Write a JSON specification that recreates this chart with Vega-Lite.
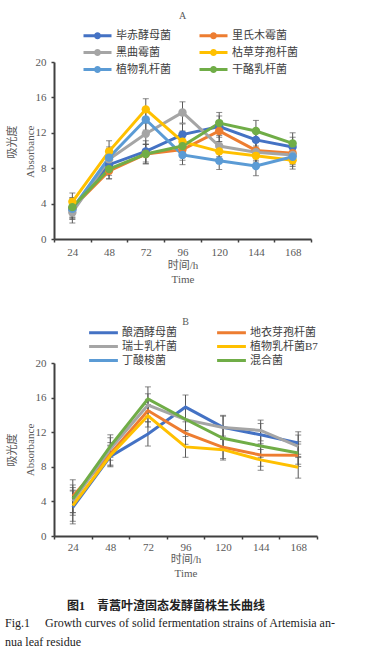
{
  "$schema": "https://vega.github.io/schema/vega-lite/v6.json",
  "padding": {"left": 5, "top": 11, "right": 4, "bottom": 4},
  "background": "white",
  "config": {
    "font": "Liberation Serif, Noto Sans CJK SC",
    "view": {"stroke": null},
    "axis": {
      "domainColor": "#404040", "domainWidth": 2,
      "tickColor": "#404040", "tickWidth": 1.5, "tickSize": 3,
      "labelColor": "#595959", "labelFontSize": 11, "labelFont": "Liberation Serif",
      "titleColor": "#595959", "titleFontSize": 11, "titleFontWeight": "normal",
      "titleFont": "Liberation Serif, Noto Sans CJK SC",
      "grid": false
    },
    "axisX": {"titleLineHeight": 14},
    "axisY": {"titleLineHeight": 18},
    "legend": {
      "labelFont": "Liberation Serif, Noto Sans CJK SC", "labelFontSize": 11, "labelColor": "#404040",
      "symbolStrokeWidth": 3
    }
  },
  "datasets": {
    "A": [
      {"strain": "毕赤酵母菌", "time": 24, "abs": 3.3, "err": 1.1},
      {"strain": "毕赤酵母菌", "time": 48, "abs": 8.4, "err": 1.2},
      {"strain": "毕赤酵母菌", "time": 72, "abs": 9.9, "err": 1.2},
      {"strain": "毕赤酵母菌", "time": 96, "abs": 11.8, "err": 1.2},
      {"strain": "毕赤酵母菌", "time": 120, "abs": 12.7, "err": 1.2},
      {"strain": "毕赤酵母菌", "time": 144, "abs": 11.2, "err": 1.1},
      {"strain": "毕赤酵母菌", "time": 168, "abs": 10.4, "err": 1.1},
      {"strain": "里氏木霉菌", "time": 24, "abs": 3.5, "err": 1.1},
      {"strain": "里氏木霉菌", "time": 48, "abs": 7.7, "err": 0.9},
      {"strain": "里氏木霉菌", "time": 72, "abs": 9.6, "err": 1.1},
      {"strain": "里氏木霉菌", "time": 96, "abs": 10.1, "err": 1.2},
      {"strain": "里氏木霉菌", "time": 120, "abs": 12.2, "err": 1.2},
      {"strain": "里氏木霉菌", "time": 144, "abs": 10.0, "err": 1.1},
      {"strain": "里氏木霉菌", "time": 168, "abs": 9.7, "err": 1.1},
      {"strain": "黑曲霉菌", "time": 24, "abs": 3.0, "err": 1.2},
      {"strain": "黑曲霉菌", "time": 48, "abs": 9.0, "err": 1.2},
      {"strain": "黑曲霉菌", "time": 72, "abs": 11.9, "err": 1.2},
      {"strain": "黑曲霉菌", "time": 96, "abs": 14.3, "err": 1.2},
      {"strain": "黑曲霉菌", "time": 120, "abs": 10.5, "err": 1.2},
      {"strain": "黑曲霉菌", "time": 144, "abs": 9.8, "err": 1.1},
      {"strain": "黑曲霉菌", "time": 168, "abs": 9.5, "err": 1.1},
      {"strain": "枯草芽孢杆菌", "time": 24, "abs": 4.2, "err": 1.0},
      {"strain": "枯草芽孢杆菌", "time": 48, "abs": 9.9, "err": 1.2},
      {"strain": "枯草芽孢杆菌", "time": 72, "abs": 14.65, "err": 1.2},
      {"strain": "枯草芽孢杆菌", "time": 96, "abs": 11.0, "err": 1.2},
      {"strain": "枯草芽孢杆菌", "time": 120, "abs": 9.9, "err": 1.1},
      {"strain": "枯草芽孢杆菌", "time": 144, "abs": 9.4, "err": 1.1},
      {"strain": "枯草芽孢杆菌", "time": 168, "abs": 8.9, "err": 1.0},
      {"strain": "植物乳杆菌", "time": 24, "abs": 3.4, "err": 1.1},
      {"strain": "植物乳杆菌", "time": 48, "abs": 9.2, "err": 1.2},
      {"strain": "植物乳杆菌", "time": 72, "abs": 13.5, "err": 1.2},
      {"strain": "植物乳杆菌", "time": 96, "abs": 9.5, "err": 1.1},
      {"strain": "植物乳杆菌", "time": 120, "abs": 8.85, "err": 1.0},
      {"strain": "植物乳杆菌", "time": 144, "abs": 8.25, "err": 1.1},
      {"strain": "植物乳杆菌", "time": 168, "abs": 9.3, "err": 1.1},
      {"strain": "干酪乳杆菌", "time": 24, "abs": 3.6, "err": 1.1},
      {"strain": "干酪乳杆菌", "time": 48, "abs": 7.9, "err": 1.1},
      {"strain": "干酪乳杆菌", "time": 72, "abs": 9.6, "err": 1.1},
      {"strain": "干酪乳杆菌", "time": 96, "abs": 10.5, "err": 1.2},
      {"strain": "干酪乳杆菌", "time": 120, "abs": 13.1, "err": 1.2},
      {"strain": "干酪乳杆菌", "time": 144, "abs": 12.2, "err": 1.2},
      {"strain": "干酪乳杆菌", "time": 168, "abs": 10.8, "err": 1.2}
    ],
    "B": [
      {"strain": "酿酒酵母菌", "time": 24, "abs": 3.3, "err": 1.9},
      {"strain": "酿酒酵母菌", "time": 48, "abs": 9.2, "err": 1.2},
      {"strain": "酿酒酵母菌", "time": 72, "abs": 11.8, "err": 1.4},
      {"strain": "酿酒酵母菌", "time": 96, "abs": 14.9, "err": 1.4},
      {"strain": "酿酒酵母菌", "time": 120, "abs": 12.55, "err": 1.4},
      {"strain": "酿酒酵母菌", "time": 144, "abs": 11.7, "err": 1.3},
      {"strain": "酿酒酵母菌", "time": 168, "abs": 10.75, "err": 1.3},
      {"strain": "地衣芽孢杆菌", "time": 24, "abs": 4.6, "err": 1.9},
      {"strain": "地衣芽孢杆菌", "time": 48, "abs": 9.5, "err": 1.3},
      {"strain": "地衣芽孢杆菌", "time": 72, "abs": 14.5, "err": 1.3},
      {"strain": "地衣芽孢杆菌", "time": 96, "abs": 11.9, "err": 1.3},
      {"strain": "地衣芽孢杆菌", "time": 120, "abs": 10.25, "err": 1.3},
      {"strain": "地衣芽孢杆菌", "time": 144, "abs": 9.36, "err": 1.3},
      {"strain": "地衣芽孢杆菌", "time": 168, "abs": 9.33, "err": 1.3},
      {"strain": "瑞士乳杆菌", "time": 24, "abs": 4.0, "err": 1.6},
      {"strain": "瑞士乳杆菌", "time": 48, "abs": 10.06, "err": 1.3},
      {"strain": "瑞士乳杆菌", "time": 72, "abs": 15.14, "err": 1.3},
      {"strain": "瑞士乳杆菌", "time": 96, "abs": 13.45, "err": 1.3},
      {"strain": "瑞士乳杆菌", "time": 120, "abs": 12.55, "err": 1.3},
      {"strain": "瑞士乳杆菌", "time": 144, "abs": 12.2, "err": 1.2},
      {"strain": "瑞士乳杆菌", "time": 168, "abs": 10.37, "err": 1.3},
      {"strain": "植物乳杆菌B7", "time": 24, "abs": 3.5, "err": 1.8},
      {"strain": "植物乳杆菌B7", "time": 48, "abs": 9.3, "err": 1.2},
      {"strain": "植物乳杆菌B7", "time": 72, "abs": 13.9, "err": 1.3},
      {"strain": "植物乳杆菌B7", "time": 96, "abs": 10.3, "err": 1.2},
      {"strain": "植物乳杆菌B7", "time": 120, "abs": 9.98, "err": 1.2},
      {"strain": "植物乳杆菌B7", "time": 144, "abs": 8.8, "err": 1.2},
      {"strain": "植物乳杆菌B7", "time": 168, "abs": 7.94, "err": 1.25},
      {"strain": "混合菌", "time": 24, "abs": 4.3, "err": 1.6},
      {"strain": "混合菌", "time": 48, "abs": 10.4, "err": 1.3},
      {"strain": "混合菌", "time": 72, "abs": 15.84, "err": 1.4},
      {"strain": "混合菌", "time": 96, "abs": 13.5, "err": 1.3},
      {"strain": "混合菌", "time": 120, "abs": 11.3, "err": 1.3},
      {"strain": "混合菌", "time": 144, "abs": 10.4, "err": 1.3},
      {"strain": "混合菌", "time": 168, "abs": 9.6, "err": 1.3}
    ]
  },
  "title": {
    "text": ["Fig.1\u00a0\u00a0\u00a0\u00a0\u00a0Growth curves of solid fermentation strains of Artemisia an-", "\u00a0\u00a0\u00a0\u00a0\u00a0\u00a0\u00a0\u00a0\u00a0\u00a0\u00a0\u00a0\u00a0nua leaf residue"],
    "orient": "bottom", "anchor": "start", "fontSize": 12, "fontWeight": "normal",
    "color": "#222222", "font": "Liberation Serif", "lineHeight": 18.5, "offset": 6, "dx": -1
  },
  "vconcat": [
    {
      "title": {
        "text": "图1\u3000青蒿叶渣固态发酵菌株生长曲线", "orient": "bottom", "anchor": "middle",
        "fontSize": 12, "fontWeight": "bold", "color": "#222222", "offset": 23, "dx": 4,
        "font": "Liberation Serif, Noto Sans CJK SC"
      },
      "spacing": 33,
      "resolve": {"scale": {"color": "independent"}, "legend": {"color": "independent"}},
      "vconcat": [
        {
          "width": 257, "height": 177,
          "title": {"text": "A", "fontSize": 10, "fontWeight": "normal", "color": "#595959", "offset": 6},
          "data": {"name": "A"},
          "encoding": {
            "x": {"field": "time", "type": "ordinal",
              "scale": {"type": "band", "paddingInner": 0, "paddingOuter": 0},
              "axis": {"title": ["时间/h", "Time"], "labelAngle": 0, "tickBand": "extent", "labelPadding": 4, "titlePadding": 2}},
            "y": {"field": "abs", "type": "quantitative",
              "scale": {"domain": [0, 20]},
              "axis": {"values": [0, 4, 8, 12, 16, 20], "title": ["吸光度", "Absorbance"], "labelPadding": 5, "titlePadding": 0, "titleY": 63, "titleAlign": "right"}}
          },
          "layer": [
            {"mark": {"type": "errorbar", "ticks": {"size": 6, "thickness": 1}, "rule": {"strokeWidth": 1}, "color": "#595959"},
             "encoding": {"yError": {"field": "err"}, "detail": {"field": "strain"}}},
            {"mark": {"type": "line", "strokeWidth": 3},
             "encoding": {"color": {"field": "strain", "type": "nominal",
               "scale": {"domain": ["毕赤酵母菌", "黑曲霉菌", "植物乳杆菌", "里氏木霉菌", "枯草芽孢杆菌", "干酪乳杆菌"],
                         "range": ["#4472C4", "#A5A5A5", "#5B9BD5", "#ED7D31", "#FFC000", "#70AD47"]},
               "legend": {"title": null, "orient": "none", "legendX": 35, "legendY": -35, "columns": 2, "columnPadding": 22, "rowPadding": -3.5, "labelOffset": 10,
                 "symbolType": "M-2,0L2,0M0.29,0A0.29,0.29,0,1,1,-0.29,0A0.29,0.29,0,1,1,0.29,0", "symbolSize": 196}}}},
            {"mark": {"type": "point", "filled": true, "size": 70, "opacity": 1},
             "encoding": {"color": {"field": "strain", "type": "nominal",
               "scale": {"domain": ["毕赤酵母菌", "黑曲霉菌", "植物乳杆菌", "里氏木霉菌", "枯草芽孢杆菌", "干酪乳杆菌"],
                         "range": ["#4472C4", "#A5A5A5", "#5B9BD5", "#ED7D31", "#FFC000", "#70AD47"]},
               "legend": {"title": null, "orient": "none", "legendX": 35, "legendY": -35, "columns": 2, "columnPadding": 22, "rowPadding": -3.5, "labelOffset": 10,
                 "symbolType": "M-2,0L2,0M0.29,0A0.29,0.29,0,1,1,-0.29,0A0.29,0.29,0,1,1,0.29,0", "symbolSize": 196}}}}
          ]
        },
        {
          "width": 263, "height": 173,
          "title": {"text": "B", "fontSize": 10, "fontWeight": "normal", "color": "#595959", "offset": -2},
          "data": {"name": "B"},
          "encoding": {
            "x": {"field": "time", "type": "ordinal",
              "scale": {"type": "band", "paddingInner": 0, "paddingOuter": 0},
              "axis": {"title": ["时间/h", "Time"], "labelAngle": 0, "tickBand": "extent", "labelPadding": 2, "titlePadding": 1}},
            "y": {"field": "abs", "type": "quantitative",
              "scale": {"domain": [0, 20]},
              "axis": {"values": [0, 4, 8, 12, 16, 20], "title": ["吸光度", "Absorbance"], "labelPadding": 5, "titlePadding": 0}}
          },
          "layer": [
            {"mark": {"type": "errorbar", "ticks": {"size": 6, "thickness": 1}, "rule": {"strokeWidth": 1}, "color": "#595959"},
             "encoding": {"yError": {"field": "err"}, "detail": {"field": "strain"}}},
            {"mark": {"type": "line", "strokeWidth": 3},
             "encoding": {"color": {"field": "strain", "type": "nominal",
               "scale": {"domain": ["酿酒酵母菌", "瑞士乳杆菌", "丁酸梭菌", "地衣芽孢杆菌", "植物乳杆菌B7", "混合菌"],
                         "range": ["#4472C4", "#A5A5A5", "#5B9BD5", "#ED7D31", "#FFC000", "#70AD47"]},
               "legend": {"title": null, "orient": "none", "legendX": 42, "legendY": -38, "columns": 2, "columnPadding": 34, "rowPadding": -3, "labelOffset": 11,
                 "symbolType": "M-2.4,0L2.4,0", "symbolSize": 144}}}}
          ]
        }
      ]
    }
  ]
}
